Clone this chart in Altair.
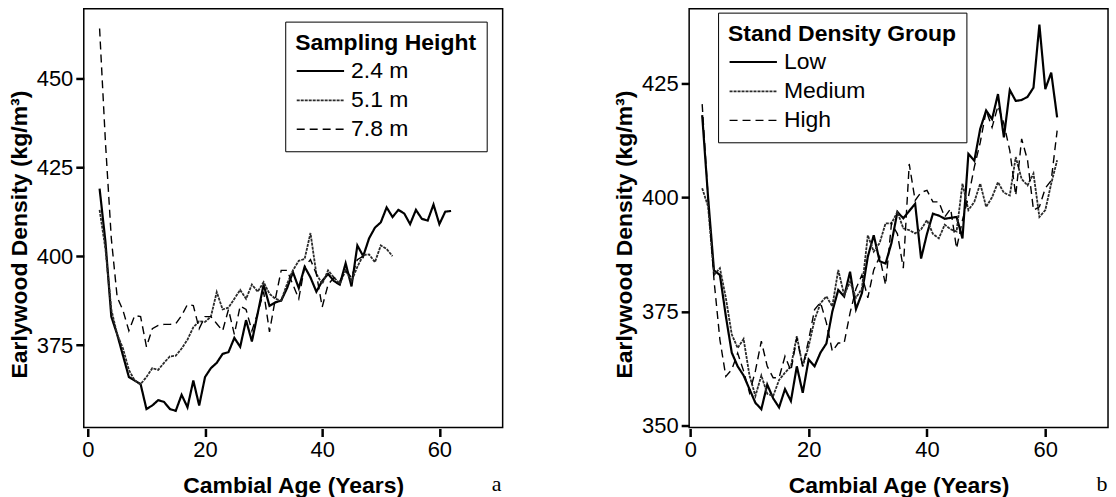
import altair as alt
import pandas as pd

# ---------------- Panel a: Sampling Height ----------------
heights = ["2.4 m", "5.1 m", "7.8 m"]
ages_24 = list(range(2, 63))
dens_24 = [419, 404, 383, 378, 372, 366, 365, 364, 357, 358, 359.5, 359, 357, 356.5,
           361, 357.5, 365, 358, 366, 368.5, 370, 372.5, 373, 377, 374.5, 382, 376, 384,
           392, 386, 387, 387.5, 391, 395.5, 391, 397, 394, 390, 393, 395, 393, 392, 398,
           391.5, 403, 400, 405, 408, 409.5, 413.7, 411, 413, 412, 409, 413, 410.5, 410,
           414.5, 409, 412.5, 412.7]
ages_51 = list(range(2, 53))
dens_51 = [413, 402, 385, 378, 374, 368, 365, 364, 366, 368.5, 368, 370, 371.8, 372,
           374, 376.5, 380, 381.7, 381.5, 383, 389.9, 385, 385.5, 388, 390.5, 388, 392,
           390, 392.7, 389.4, 388, 387.5, 392.2, 396, 398.7, 399.2, 406.5, 395, 392.2,
           396, 394, 392.2, 396, 393, 397, 400.3, 400.5, 398.3, 403, 402, 400]
ages_78 = list(range(2, 48))
dens_78 = [464, 432, 405, 388.5, 384.7, 379, 383.3, 383, 374.5, 379.6, 380.5, 380.8,
           380.8, 381, 383.3, 386.4, 386.1, 379.6, 383, 383, 381, 379, 385, 378, 386, 385,
           379, 384, 390, 378.7, 388, 396, 396, 392, 388, 397, 399, 395, 385.7, 392, 394,
           393, 396, 394, 399, 400]

# ---------------- Panel b: Stand Density Group ----------------
groups = ["Low", "Medium", "High"]
ages_b = list(range(2, 63))
dens_low = [418, 400, 384, 383, 374, 366, 363, 361, 358, 355, 353.6, 359, 356, 354, 358,
            355.4, 363, 357.2, 364.5, 363, 366, 368, 375, 379.7, 378.3, 383.7, 375.5, 379,
            387, 391.7, 386, 385.5, 390, 396.8, 395.4, 397, 398.6, 386.6, 392, 396.4, 396,
            395.3, 395.5, 395.7, 391, 409.5, 408, 415, 419, 417.1, 422.6, 413.1, 423.5,
            421.1, 421.3, 422, 424, 437.8, 423.7, 427.3, 417.5]
dens_med = [402, 398, 383, 384.5, 378, 370, 367, 369, 361, 356.5, 361, 357, 356.5, 360,
            361.6, 363, 369.6, 363, 367.4, 373.2, 376.8, 378.3, 376.1, 384.1, 378.6, 381.5,
            378, 380, 391.7, 388.1, 390, 394.3, 394.3, 396.8, 393.2, 392.8, 392.1, 393, 395,
            392, 391, 394, 393, 392.5, 403, 397.2, 399, 403, 397.9, 400, 403.3, 401, 400.4,
            408.8, 404, 402.6, 405.2, 395.7, 397.2, 403, 408.1]
dens_high = [420.4, 400, 381.9, 368.8, 360.8, 362.3, 365.9, 362, 357.2, 362, 368.5, 363,
             360.5, 360.5, 365.2, 362, 369.2, 363, 368.8, 375.4, 377, 372.5, 366.3, 368.1,
             368.1, 374.7, 380, 383, 378, 384.1, 387, 380.8, 394.3, 392, 384.5, 407.3,
             399.3, 401.1, 401.5, 399, 399, 395.7, 397.5, 388.8, 395, 400.1, 406.6, 412,
             419, 415.3, 420, 416.1, 410.2, 400.4, 412.8, 408.1, 397.2, 397.9, 402, 403.7,
             414.6]

x_ticks = [0, 20, 40, 60]
y_ticks_a = [375, 400, 425, 450]
y_ticks_b = [350, 375, 400, 425]
panel_letters = ["a", "b"]

FONT = "Liberation Sans"


def long_df(names, ages_list, dens_list):
    frames = []
    for n, a, d in zip(names, ages_list, dens_list):
        frames.append(pd.DataFrame({"age": a, "density": d, "series": n}))
    return pd.concat(frames, ignore_index=True)


df_a = long_df(heights, [ages_24, ages_51, ages_78], [dens_24, dens_51, dens_78])
df_b = long_df(groups, [ages_b, ages_b, ages_b], [dens_low, dens_med, dens_high])

dashes = [[1, 0], [3, 1], [8, 5]]
widths = [2.2, 1.4, 1.8]
colors = ["#000000", "#2a2a2a", "#000000"]

W, H = 420, 420


def panel(df, order, title, xdom, ydom, yticks, lx, ly, letter):
    leg = alt.Legend(
        title=title, orient="none", legendX=lx, legendY=ly,
        symbolType="M-1,0H2.4", symbolSize=780, symbolStrokeWidth=1.6,
        titleFont=FONT, titleFontSize=23, titleFontWeight="bold", titleColor="black",
        titleLimit=0, labelLimit=0,
        labelFont=FONT, labelFontSize=23, labelColor="black",
        strokeColor="black", fillColor="white", padding=10,
        rowPadding=2, titlePadding=1, labelOffset=25,
    )
    lines = alt.Chart(df).mark_line(clip=True).encode(
        x=alt.X("age:Q", scale=alt.Scale(domain=xdom, nice=False, zero=False),
                axis=alt.Axis(values=x_ticks, title="Cambial Age (Years)", offset=1)),
        y=alt.Y("density:Q", scale=alt.Scale(domain=ydom, nice=False, zero=False),
                axis=alt.Axis(values=yticks, title="Earlywood Density (kg/m³)", titleY=226)),
        strokeDash=alt.StrokeDash("series:N", sort=order,
                                  scale=alt.Scale(domain=order, range=dashes), legend=leg),
        strokeWidth=alt.StrokeWidth("series:N", sort=order,
                                    scale=alt.Scale(domain=order, range=widths), legend=leg),
        color=alt.Color("series:N", sort=order,
                        scale=alt.Scale(domain=order, range=colors), legend=leg),
        order=alt.Order("age:Q"),
    )
    lab = alt.Chart(pd.DataFrame({"t": [letter]})).mark_text(
        font="Liberation Serif", fontSize=22, color="black", align="center", baseline="middle"
    ).encode(text="t:N", x=alt.value(W - 6), y=alt.value(H + 57))
    return alt.layer(lines, lab).properties(width=W, height=H)


pa = panel(df_a, heights, "Sampling Height", [-0.7, 70.8], [351.8, 469.6], y_ticks_a, 202, 13,
           panel_letters[0])
pb = panel(df_b, groups, "Stand Density Group", [-0.2, 70.6], [349.6, 441.3], y_ticks_b, 29, 4,
           panel_letters[1])

chart = alt.hconcat(pa, pb, spacing=187, bounds="flush").resolve_scale(
    strokeDash="independent", strokeWidth="independent", color="independent"
).properties(
    padding={"left": 7, "top": 7, "right": 7, "bottom": 0}
).configure_view(stroke="black", strokeWidth=1.5).configure_axis(
    grid=False, domain=False, tickSize=8, tickWidth=2.5, tickColor="black",
    labelFont=FONT, labelFontSize=22, labelColor="black", labelPadding=3,
    titleFont=FONT, titleFontSize=23, titleFontWeight="bold", titleColor="black",
).configure_axisY(titlePadding=5).configure_axisX(titlePadding=14)

chart.save("out.html", embed_options={"renderer": "svg", "actions": False})
